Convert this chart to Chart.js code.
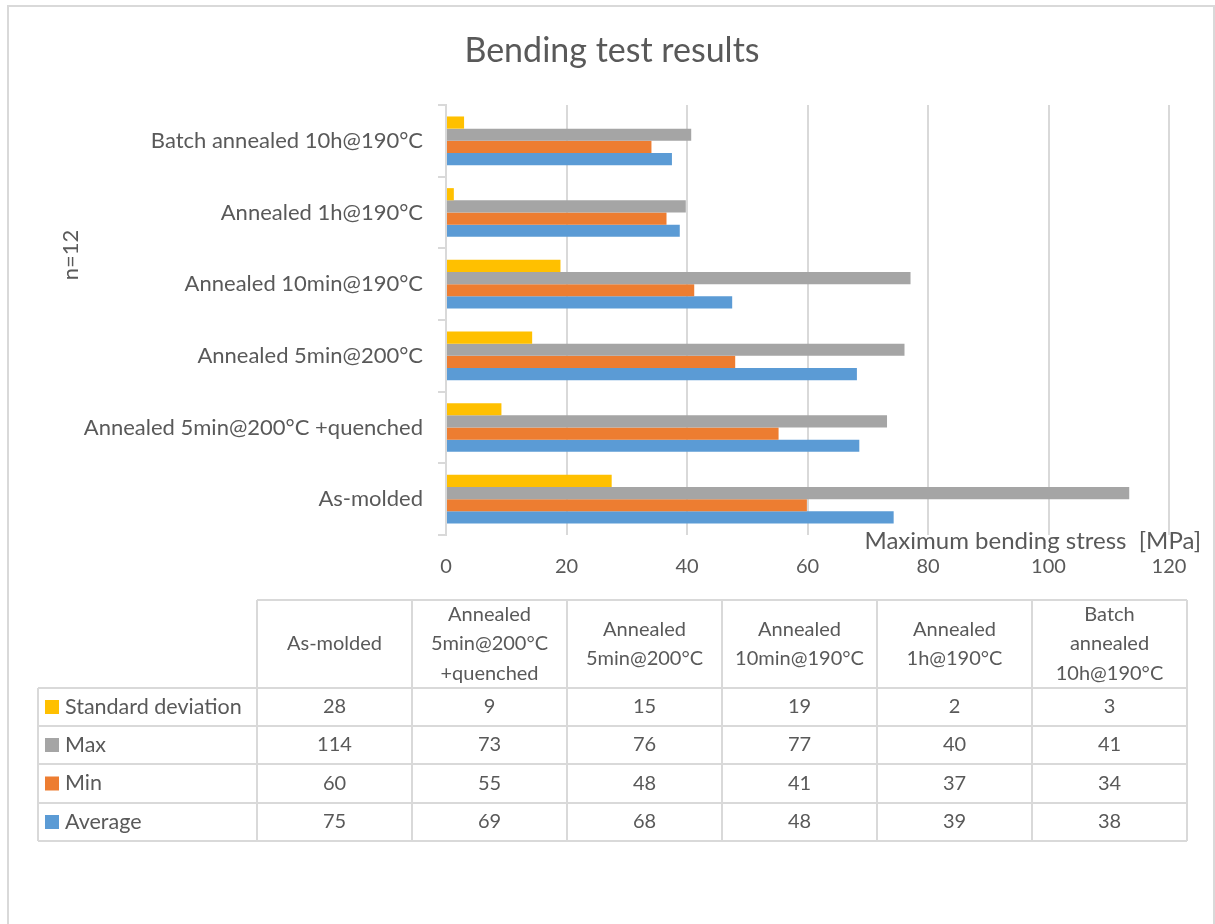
<!DOCTYPE html>
<html>
<head>
<meta charset="utf-8">
<title>Bending test results</title>
<script src="https://cdn.jsdelivr.net/npm/chart.js"></script>
<style>
  html, body { margin: 0; padding: 0; background: #fff; overflow: hidden; }
  #wrap { position: relative; width: 1215px; height: 924px; }
  #frame { position: absolute; left: 7px; top: 5px; width: 1208px; height: 1000px; border: 2px solid #d9d9d9; box-sizing: border-box; }
  canvas { position: absolute; left: 0; top: 0; }
</style>
</head>
<body>
<div id="wrap">
  <div id="frame"></div>
  <canvas id="bendingChart" width="1215" height="924"></canvas>
</div>
<script>
const categories = [
    'As-molded',
    'Annealed 5min@200°C +quenched',
    'Annealed 5min@200°C',
    'Annealed 10min@190°C',
    'Annealed 1h@190°C',
    'Batch annealed 10h@190°C'
];

// bar lengths [MPa]
const stdDev    = [27.5, 9.2, 14.3, 19.0, 1.3, 3.0];
const maxStress = [113.4, 73.2, 76.1, 77.1, 39.8, 40.7];
const minStress = [59.9, 55.2, 48.0, 41.2, 36.6, 34.1];
const avgStress = [74.3, 68.6, 68.2, 47.5, 38.8, 37.5];

// values printed in the data table
const tableStdDev = [28, 9, 15, 19, 2, 3];
const tableMax    = [114, 73, 76, 77, 40, 41];
const tableMin    = [60, 55, 48, 41, 37, 34];
const tableAvg    = [75, 69, 68, 48, 39, 38];

const xTicks = [0, 20, 40, 60, 80, 100, 120];

const textColor = '#595959';
const lineColor = '#d9d9d9';
const font = 'Lato, "Open Sans", sans-serif';

Chart.defaults.color = textColor;
Chart.defaults.font.family = font;

const series = [
    { label: 'Standard deviation', data: stdDev, table: tableStdDev, color: '#FFC000' },
    { label: 'Max', data: maxStress, table: tableMax, color: '#A5A5A5' },
    { label: 'Min', data: minStress, table: tableMin, color: '#ED7D31' },
    { label: 'Average', data: avgStress, table: tableAvg, color: '#5B9BD5' }
];

// title, axis titles and the data table under the chart
const extrasPlugin = {
    id: 'extras',
    afterDraw(chart) {
        const ctx = chart.ctx;
        ctx.save();
        ctx.fillStyle = textColor;
        ctx.textBaseline = 'middle';

        ctx.font = '34px ' + font;
        ctx.textAlign = 'center';
        ctx.fillText('Bending test results', 612, 51);

        ctx.font = '24px ' + font;
        ctx.textAlign = 'right';
        ctx.fillText('Maximum bending stress  [MPa]', 1201, 541);

        ctx.save();
        ctx.font = '22px ' + font;
        ctx.translate(71, 255);
        ctx.rotate(-Math.PI / 2);
        ctx.textAlign = 'center';
        ctx.fillText('n=12', 0, 0);
        ctx.restore();

        // table
        const cols = [38, 257, 412, 567, 722, 877, 1032, 1187];
        const headTop = 600;
        const rows = [688, 726, 764, 803, 841];

        ctx.strokeStyle = lineColor;
        ctx.lineWidth = 2;
        ctx.beginPath();
        ctx.moveTo(cols[1], headTop); ctx.lineTo(cols[7], headTop);
        rows.forEach(y => { ctx.moveTo(cols[0], y); ctx.lineTo(cols[7], y); });
        ctx.moveTo(cols[0], rows[0]); ctx.lineTo(cols[0], rows[4]);
        for (let i = 1; i < cols.length; i++) {
            ctx.moveTo(cols[i], headTop); ctx.lineTo(cols[i], rows[4]);
        }
        ctx.stroke();

        ctx.font = '20px ' + font;
        ctx.textAlign = 'center';
        categories.forEach((cat, i) => {
            const cx = (cols[i + 1] + cols[i + 2]) / 2;
            const lines = cat.split(' ');
            const lh = 29.5;
            const cy = (headTop + rows[0]) / 2;
            lines.forEach((ln, j) => {
                ctx.fillText(ln, cx, cy + (j - (lines.length - 1) / 2) * lh);
            });
        });

        series.forEach((s, r) => {
            const cy = (rows[r] + rows[r + 1]) / 2;
            ctx.fillStyle = s.color;
            ctx.fillRect(45, cy - 7, 14, 14);
            ctx.fillStyle = textColor;
            ctx.textAlign = 'left';
            ctx.font = '21.5px ' + font;
            ctx.fillText(s.label, 65, cy);
            ctx.font = '20px ' + font;
            ctx.textAlign = 'center';
            s.table.forEach((v, i) => {
                ctx.fillText(String(v), (cols[i + 1] + cols[i + 2]) / 2, cy);
            });
        });
        ctx.restore();
    }
};

new Chart(document.getElementById('bendingChart'), {
    type: 'bar',
    data: {
        labels: categories,
        datasets: series.map(s => ({
            label: s.label,
            data: s.data,
            backgroundColor: s.color,
            borderWidth: 0,
            categoryPercentage: 0.68,
            barPercentage: 1
        }))
    },
    options: {
        indexAxis: 'y',
        responsive: false,
        animation: false,
        layout: { padding: { top: 105, left: 0, right: 46, bottom: 349 } },
        plugins: {
            legend: { display: false },
            tooltip: { enabled: false },
            title: { display: false }
        },
        scales: {
            x: {
                min: 0,
                max: 120,
                afterBuildTicks: scale => { scale.ticks = xTicks.map(v => ({ value: v })); },
                afterFit: scale => { scale.height = 40; },
                grid: { color: lineColor, lineWidth: 2, drawTicks: false },
                border: { display: false },
                ticks: { padding: 20, font: { size: 20 }, color: textColor }
            },
            y: {
                reverse: true,
                afterFit: scale => { scale.width = 446; },
                grid: { drawOnChartArea: false, color: lineColor, lineWidth: 2, tickLength: 8 },
                border: { color: lineColor, width: 2 },
                ticks: { padding: 15, font: { size: 22 }, color: textColor }
            }
        }
    },
    plugins: [extrasPlugin]
});
</script>
</body>
</html>
